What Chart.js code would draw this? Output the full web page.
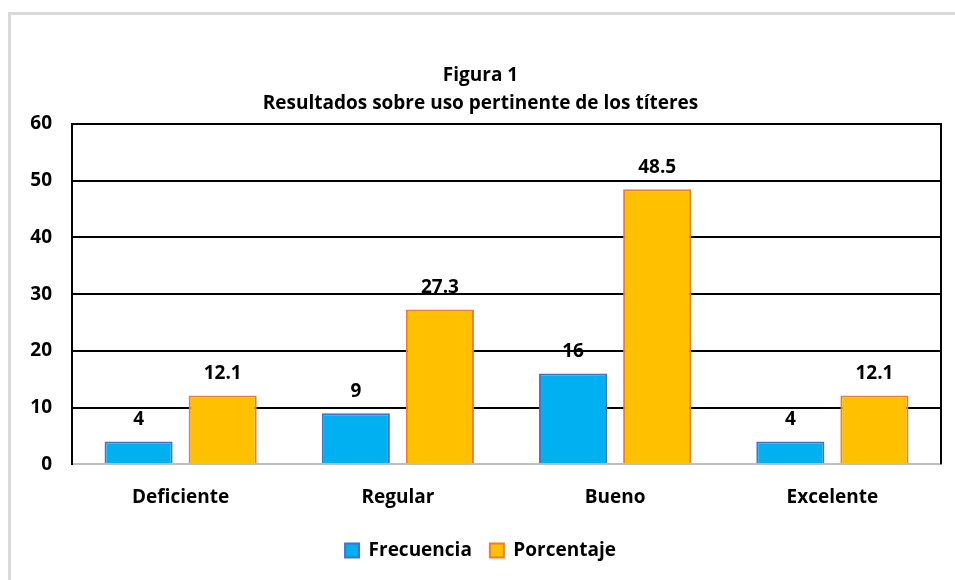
<!DOCTYPE html>
<html>
<head>
<meta charset="utf-8">
<script src="https://cdn.jsdelivr.net/npm/chart.js@4.4.0/dist/chart.umd.min.js"></script>
<style>
  html, body { margin: 0; padding: 0; background: #fff; overflow: hidden; }
  #wrap { position: relative; width: 955px; height: 580px; }
  #frame { position: absolute; left: 8px; top: 12px; width: 960px; height: 600px;
           border-left: 3px solid #d9d9d9; border-top: 3px solid #d9d9d9; }
  canvas { position: absolute; left: 0; top: 0; }
</style>
</head>
<body>
<div id="wrap">
  <div id="frame"></div>
  <canvas id="chart" width="955" height="580"></canvas>
</div>
<script>
// chart data
const categories = ['Deficiente', 'Regular', 'Bueno', 'Excelente'];
const frecuencia = [4, 9, 16, 4];
const porcentaje = [12.1, 27.3, 48.5, 12.1];
const yTicks = [0, 10, 20, 30, 40, 50, 60];
const titleLines = ['Figura 1', 'Resultados sobre uso pertinente de los títeres'];

const fontFamily = '"Open Sans", Lato, sans-serif';

// draws the numbers on top of each bar
const valueLabels = {
    id: 'valueLabels',
    afterDatasetsDraw(chart) {
        const ctx = chart.ctx;
        ctx.save();
        ctx.font = 'bold 19px ' + fontFamily;
        ctx.fillStyle = '#000';
        ctx.textAlign = 'center';
        ctx.textBaseline = 'bottom';
        chart.data.datasets.forEach((ds, i) => {
            chart.getDatasetMeta(i).data.forEach((bar, j) => {
                ctx.fillText(String(ds.data[j]), bar.x, bar.y - 12);
            });
        });
        ctx.restore();
    }
};

// right border of the plot area
const rightBorder = {
    id: 'rightBorder',
    afterDraw(chart) {
        const a = chart.chartArea;
        const ctx = chart.ctx;
        ctx.save();
        ctx.strokeStyle = '#000';
        ctx.lineWidth = 2;
        ctx.beginPath();
        ctx.moveTo(a.right, a.top - 1);
        ctx.lineTo(a.right, a.bottom);
        ctx.stroke();
        ctx.restore();
    }
};

const ctx = document.getElementById('chart').getContext('2d');
new Chart(ctx, {
    type: 'bar',
    data: {
        labels: categories,
        datasets: [{
            label: 'Frecuencia',
            data: frecuencia,
            backgroundColor: '#00B0F0',
            borderColor: '#4472C4',
            borderWidth: 2,
            borderSkipped: 'bottom'
        }, {
            label: 'Porcentaje',
            data: porcentaje,
            backgroundColor: '#FFC000',
            borderColor: '#ED7D31',
            borderWidth: 2,
            borderSkipped: 'bottom'
        }]
    },
    options: {
        responsive: false,
        animation: false,
        layout: { padding: { left: 20, right: 14, top: 61, bottom: 10 } },
        datasets: { bar: { categoryPercentage: 0.774, barPercentage: 0.81 } },
        scales: {
            x: {
                grid: { display: false },
                border: { color: '#bfbfbf', width: 2 },
                ticks: { color: '#000', font: { family: fontFamily, size: 19, weight: 'bold' }, padding: 14 }
            },
            y: {
                min: 0,
                max: 60,
                afterBuildTicks(scale) { scale.ticks = yTicks.map(v => ({ value: v })); },
                afterFit(scale) { scale.width = 52; },
                grid: {
                    color: c => c.tick && c.tick.value === 0 ? '#bfbfbf' : '#000',
                    lineWidth: 2,
                    drawTicks: false
                },
                border: { color: '#000', width: 2 },
                ticks: { color: '#000', font: { family: fontFamily, size: 19, weight: 'bold' }, padding: 20 }
            }
        },
        plugins: {
            title: {
                display: true,
                text: titleLines,
                color: '#000',
                font: { family: fontFamily, size: 19, weight: 'bold', lineHeight: 1.5 },
                padding: { top: 0, bottom: 6 }
            },
            legend: {
                position: 'bottom',
                labels: {
                    color: '#000',
                    boxWidth: 14,
                    boxHeight: 14,
                    padding: 18,
                    font: { family: fontFamily, size: 19, weight: 'bold' }
                }
            },
            tooltip: { enabled: false }
        }
    },
    plugins: [valueLabels, rightBorder]
});
</script>
</body>
</html>
